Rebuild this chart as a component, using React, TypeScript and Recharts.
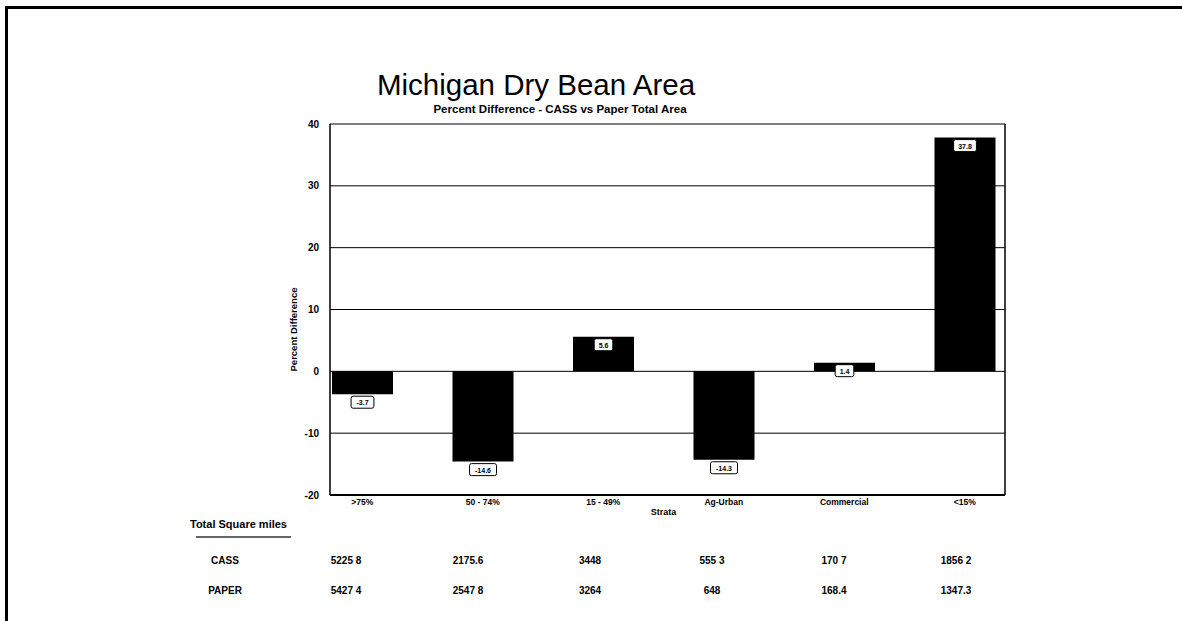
import React from 'react';
import { BarChart, Bar, XAxis, YAxis, CartesianGrid, LabelList } from 'recharts';

const strata = ['>75%', '50 - 74%', '15 - 49%', 'Ag-Urban', 'Commercial', '<15%'];
const percentDiff = [-3.7, -14.6, 5.6, -14.3, 1.4, 37.8];
const yTicks = [-20, -10, 0, 10, 20, 30, 40];
const cassMiles = ['5225 8', '2175.6', '3448', '555 3', '170 7', '1856 2'];
const paperMiles = ['5427 4', '2547 8', '3264', '648', '168.4', '1347.3'];

const chartData = strata.map((s, i) => ({ strata: s, diff: percentDiff[i] }));

const FONT = '"Liberation Sans", Arial, Helvetica, sans-serif';

// little boxed value tag just under the end of each bar
const ValueTag = (props: any) => {
  const { x, y, width, value } = props;
  const txt = String(value);
  const w = txt.length * 4.2 + 6;
  const cx = x + width / 2;
  return (
    <g>
      <rect x={cx - w / 2} y={y + 2} width={w} height={12} rx={2} fill="#fff" stroke="#000" strokeWidth={1} />
      <text x={cx} y={y + 11} textAnchor="middle" fontSize={7} fontWeight="bold" fontFamily={FONT} fill="#000">
        {txt}
      </text>
    </g>
  );
};

const App: React.FC = () => {
  return (
    <div style={{ position: 'absolute', left: 0, top: 0, width: 1182, height: 621, background: '#fff', fontFamily: FONT, overflow: 'hidden' }}>
      <div style={{ position: 'absolute', left: 5, top: 6, width: 1177, height: 3, background: '#000' }} />
      <div style={{ position: 'absolute', left: 5, top: 6, width: 3, height: 615, background: '#000' }} />

      <div style={{ position: 'absolute', left: 289, width: 494, top: 70, textAlign: 'center', fontSize: 29.5, color: '#000', lineHeight: '30px' }}>
        Michigan Dry Bean Area
      </div>
      <div style={{ position: 'absolute', left: 360, width: 400, top: 103, textAlign: 'center', fontSize: 11.5, fontWeight: 'bold', color: '#000', lineHeight: '13px' }}>
        Percent Difference - CASS vs Paper Total Area
      </div>

      <div style={{ position: 'absolute', left: 0, top: 0 }}>
        <BarChart
          width={1182}
          height={621}
          data={chartData}
          margin={{ top: 124, left: 300, right: 176, bottom: 104 }}
        >
          <CartesianGrid vertical={false} stroke="#000" strokeWidth={1} />
          <XAxis
            dataKey="strata"
            height={22}
            padding={{ left: -28, right: -20 }}
            axisLine={{ stroke: '#000', strokeWidth: 2 }}
            tickLine={false}
            tickSize={2}
            interval={0}
            tick={{ fontSize: 8.5, fontWeight: 'bold', fill: '#000', fontFamily: FONT }}
            label={{ value: 'Strata', position: 'insideBottom', offset: 2, fontSize: 9, fontWeight: 'bold', fill: '#000', fontFamily: FONT, dx: -4 }}
          />
          <YAxis
            domain={[-20, 40]}
            ticks={yTicks}
            width={30}
            interval={0}
            axisLine={{ stroke: '#000', strokeWidth: 1.5 }}
            tickLine={false}
            tickSize={8}
            tickMargin={3}
            tick={{ fontSize: 10, fontWeight: 'bold', fill: '#000', fontFamily: FONT }}
            label={{ value: 'Percent Difference', angle: -90, position: 'insideLeft', offset: -6, dy: 20, fontSize: 9.5, fontWeight: 'bold', fill: '#000', fontFamily: FONT, style: { textAnchor: 'middle' } }}
          />
          <YAxis
            yAxisId="frame"
            orientation="right"
            domain={[-20, 40]}
            width={1}
            tick={false}
            tickLine={false}
            axisLine={{ stroke: '#000', strokeWidth: 1.5 }}
          />
          <Bar dataKey="diff" fill="#000" barSize={61} isAnimationActive={false}>
            <LabelList dataKey="diff" content={<ValueTag />} />
          </Bar>
        </BarChart>
      </div>

      <div style={{ position: 'absolute', left: 190, top: 518, fontSize: 11, fontWeight: 'bold', color: '#000' }}>
        Total Square miles
      </div>
      <div style={{ position: 'absolute', left: 196, top: 536, width: 95, height: 2, background: '#666' }} />

      {[{ name: 'CASS', vals: cassMiles, top: 554 }, { name: 'PAPER', vals: paperMiles, top: 584 }].map((row) => (
        <div key={row.name} style={{ position: 'absolute', left: 165, top: row.top, display: 'flex', fontSize: 10, fontWeight: 'bold', color: '#000', lineHeight: '14px' }}>
          <div style={{ width: 120, textAlign: 'center' }}>{row.name}</div>
          {row.vals.map((v, i) => (
            <div key={i} style={{ width: 122, textAlign: 'center' }}>{v}</div>
          ))}
        </div>
      ))}
    </div>
  );
};

export default App;
